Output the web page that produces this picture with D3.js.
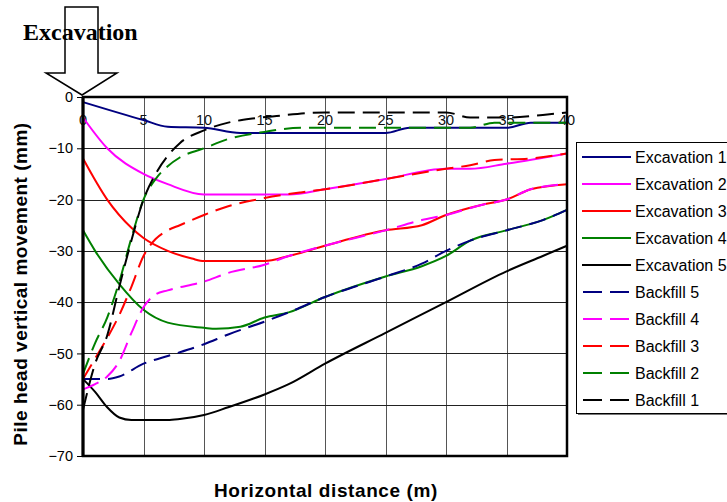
<!DOCTYPE html>
<html>
<head>
<meta charset="utf-8">
<script src="https://d3js.org/d3.v7.min.js"></script>
<style>
  body { margin: 0; background: #fff; }
  svg { display: block; }
</style>
</head>
<body>
<div id="chart"></div>
<script>
// tick labels
const xTicks = [0, 5, 10, 15, 20, 25, 30, 35, 40];
const yTicks = [0, -10, -20, -30, -40, -50, -60, -70];

// series values (distance m, movement mm)
const exc1X = [0, 5, 7, 10, 13, 15, 20, 25, 27, 30, 35, 37, 40];
const exc1Y = [-1, -4.5, -5.8, -6, -7, -7, -7, -7, -6, -6, -6, -5, -5];

const exc2X = [0, 2, 5, 7, 10, 15, 17, 20, 25, 30, 32, 35, 40];
const exc2Y = [-4, -10, -15, -17, -19, -19, -19, -18, -16, -14, -14, -13, -11];

const exc3X = [0, 2, 4, 5, 7, 9, 10, 15, 17, 20, 25, 28, 30, 33, 35, 37, 40];
const exc3Y = [-12, -20, -25.5, -27.5, -30, -31.5, -32, -32, -31, -29, -26, -25, -23, -21, -20, -18, -17];

const exc4X = [0, 1, 3, 5, 7, 10, 11, 13, 15, 17, 20, 25, 28, 30, 32, 35, 38, 40];
const exc4Y = [-26, -30, -36.5, -41.5, -44, -45, -45.2, -44.8, -43, -42, -39, -35, -33, -31, -28, -26, -24, -22];

const exc5X = [0, 1, 2, 3, 4, 5, 7, 8, 10, 12, 15, 17, 20, 25, 30, 35, 38, 40];
const exc5Y = [-55, -57.5, -60.5, -62.5, -63, -63, -63, -62.8, -62, -60.5, -58, -56, -52, -46, -40, -34, -31, -29];

const bf5X = [0, 2, 3, 5, 7, 10, 12, 15, 17, 20, 25, 28, 30, 32, 35, 38, 40];
const bf5Y = [-55, -55, -54.5, -52, -50.5, -48.2, -46.3, -43.8, -42, -39, -35, -32.5, -30, -28, -26, -24, -22];

const bf4X = [0, 1, 2, 3, 4, 5, 6, 7, 10, 12, 15, 17, 20, 25, 28, 30, 33, 35, 37, 40];
const bf4Y = [-57, -56, -54.5, -51.5, -46, -41, -38.5, -37.7, -36, -34.3, -32.7, -31, -29, -26, -24, -23, -21, -20, -18, -17];

const bf3X = [0, 1, 2, 3, 4, 5, 6, 7, 8, 10, 12, 15, 18, 20, 25, 30, 32, 34, 37, 40];
const bf3Y = [-55, -51, -47, -42.5, -37, -31, -27.7, -26, -25, -23, -21.3, -19.7, -18.6, -18, -16, -14, -13.3, -12.3, -12, -11];

const bf2X = [0, 1, 2, 3, 4, 5, 6, 7, 8, 10, 12, 15, 18, 20, 25, 30, 32, 34, 36, 40];
const bf2Y = [-54, -48, -43, -36, -27.5, -20, -16, -13.5, -11.8, -10, -8.2, -6.8, -6, -6, -6, -6, -6, -5, -5, -5];

const bf1X = [0, 1, 2, 3, 4, 5, 6, 7, 8, 10, 12, 14, 16, 20, 25, 30, 32, 35, 38, 40];
const bf1Y = [-61, -52, -46.5, -37, -28, -20, -15, -11.5, -9, -6.5, -5, -4.2, -3.7, -3, -3, -3, -4, -4, -3.5, -3];

const seriesNames = ["Excavation 1", "Excavation 2", "Excavation 3", "Excavation 4", "Excavation 5",
                     "Backfill 5", "Backfill 4", "Backfill 3", "Backfill 2", "Backfill 1"];

const series = [
  { name: seriesNames[0], xs: exc1X, ys: exc1Y, color: "#000080", dashed: false },
  { name: seriesNames[1], xs: exc2X, ys: exc2Y, color: "#ff00ff", dashed: false },
  { name: seriesNames[2], xs: exc3X, ys: exc3Y, color: "#ff0000", dashed: false },
  { name: seriesNames[3], xs: exc4X, ys: exc4Y, color: "#008000", dashed: false },
  { name: seriesNames[4], xs: exc5X, ys: exc5Y, color: "#000000", dashed: false },
  { name: seriesNames[5], xs: bf5X, ys: bf5Y, color: "#000080", dashed: true },
  { name: seriesNames[6], xs: bf4X, ys: bf4Y, color: "#ff00ff", dashed: true },
  { name: seriesNames[7], xs: bf3X, ys: bf3Y, color: "#ff0000", dashed: true },
  { name: seriesNames[8], xs: bf2X, ys: bf2Y, color: "#008000", dashed: true },
  { name: seriesNames[9], xs: bf1X, ys: bf1Y, color: "#000000", dashed: true }
];

const svgWidth = 727;
const svgHeight = 502;
const margin = { top: 97, right: 160, bottom: 46, left: 83 };
const width = 567 - margin.left;
const height = 456 - margin.top;

const svg = d3.select("#chart")
    .append("svg")
    .attr("width", svgWidth)
    .attr("height", svgHeight)
    .style("font-family", "Arial, 'Liberation Sans', sans-serif");

const chart = svg.append("g")
    .attr("transform", `translate(${margin.left},${margin.top})`);

const x = d3.scaleLinear().domain([0, 40]).range([0, width]);
const y = d3.scaleLinear().domain([-70, 0]).range([height, 0]);

// grid
chart.selectAll(".vgrid")
    .data(xTicks.slice(1, -1))
    .join("line")
    .attr("class", "vgrid")
    .attr("x1", d => Math.round(x(d)) + 0.5)
    .attr("x2", d => Math.round(x(d)) + 0.5)
    .attr("y1", 0)
    .attr("y2", height)
    .attr("stroke", "#555")
    .attr("stroke-width", 1);

chart.selectAll(".hgrid")
    .data(yTicks.slice(1, -1))
    .join("line")
    .attr("class", "hgrid")
    .attr("x1", 0)
    .attr("x2", width)
    .attr("y1", d => Math.round(y(d)) + 0.5)
    .attr("y2", d => Math.round(y(d)) + 0.5)
    .attr("stroke", "#222")
    .attr("stroke-width", 1);

// y axis on the left
const yAxis = chart.append("g")
    .call(d3.axisLeft(y).tickValues(yTicks).tickSize(6).tickPadding(4).tickFormat(d3.format("d")));
yAxis.select(".domain").remove();
yAxis.selectAll(".tick line").attr("stroke", "#000");
yAxis.selectAll(".tick text")
    .attr("font-size", 14.5)
    .attr("font-family", "Arial, 'Liberation Sans', sans-serif")
    .attr("fill", "#000");

// x labels sit inside the plot, just under the top edge
chart.selectAll(".xlabel")
    .data(xTicks)
    .join("text")
    .attr("class", "xlabel")
    .attr("x", d => x(d))
    .attr("y", 28)
    .attr("text-anchor", "middle")
    .attr("font-size", 14.5)
    .attr("fill", "#111")
    .text(d => d);

// lines
const line = d3.line()
    .x(d => x(d[0]))
    .y(d => y(d[1]))
    .curve(d3.curveMonotoneX);

chart.selectAll(".series")
    .data(series)
    .join("path")
    .attr("class", "series")
    .attr("fill", "none")
    .attr("stroke", d => d.color)
    .attr("stroke-width", 2)
    .attr("stroke-dasharray", d => d.dashed ? "17,8" : null)
    .attr("d", d => line(d.xs.map((v, i) => [v, d.ys[i]])));

// frame
chart.append("rect")
    .attr("x", 0)
    .attr("y", 0)
    .attr("width", width)
    .attr("height", height)
    .attr("fill", "none")
    .attr("stroke", "#000")
    .attr("stroke-width", 2.5);
chart.append("line")
    .attr("x1", 0).attr("x2", 0)
    .attr("y1", 0).attr("y2", height)
    .attr("stroke", "#000")
    .attr("stroke-width", 3);

// axis titles
svg.append("text")
    .attr("transform", "translate(27,284) rotate(-90)")
    .attr("text-anchor", "middle")
    .attr("font-size", 19)
    .attr("font-weight", "bold")
    .attr("letter-spacing", 0.5)
    .text("Pile head vertical movement (mm)");

svg.append("text")
    .attr("x", 326)
    .attr("y", 497)
    .attr("text-anchor", "middle")
    .attr("font-size", 19)
    .attr("font-weight", "bold")
    .attr("letter-spacing", 0.6)
    .text("Horizontal distance (m)");

// excavation arrow and label
svg.append("text")
    .attr("x", 23)
    .attr("y", 40)
    .attr("font-family", "'Liberation Serif', 'Times New Roman', serif")
    .attr("font-size", 24)
    .attr("font-weight", "bold")
    .text("Excavation");

svg.append("path")
    .attr("d", "M65,7 L98,7 L98,73 L117,73 L82,95 L46,73 L65,73 Z")
    .attr("fill", "none")
    .attr("stroke", "#000")
    .attr("stroke-width", 1.5);

// legend
const legend = svg.append("g")
    .attr("transform", "translate(576.5,142.5)");

legend.append("rect")
    .attr("x", 1.5)
    .attr("y", 1.5)
    .attr("width", 170)
    .attr("height", 271)
    .attr("fill", "#777");
legend.append("rect")
    .attr("width", 170)
    .attr("height", 271)
    .attr("fill", "#fff")
    .attr("stroke", "#000")
    .attr("stroke-width", 1);

const item = legend.selectAll(".item")
    .data(series)
    .join("g")
    .attr("class", "item")
    .attr("transform", (d, i) => `translate(0,${14.5 + i * 27})`);

item.append("line")
    .attr("x1", 5.5)
    .attr("x2", 54.5)
    .attr("stroke", d => d.color)
    .attr("stroke-width", 2)
    .attr("stroke-dasharray", d => d.dashed ? "19,8" : null)
    .attr("stroke-dashoffset", d => d.dashed ? -1 : null);

item.append("text")
    .attr("x", 58.5)
    .attr("y", 5.5)
    .attr("font-size", 16)
    .attr("fill", "#000")
    .text(d => d.name);
</script>
</body>
</html>
